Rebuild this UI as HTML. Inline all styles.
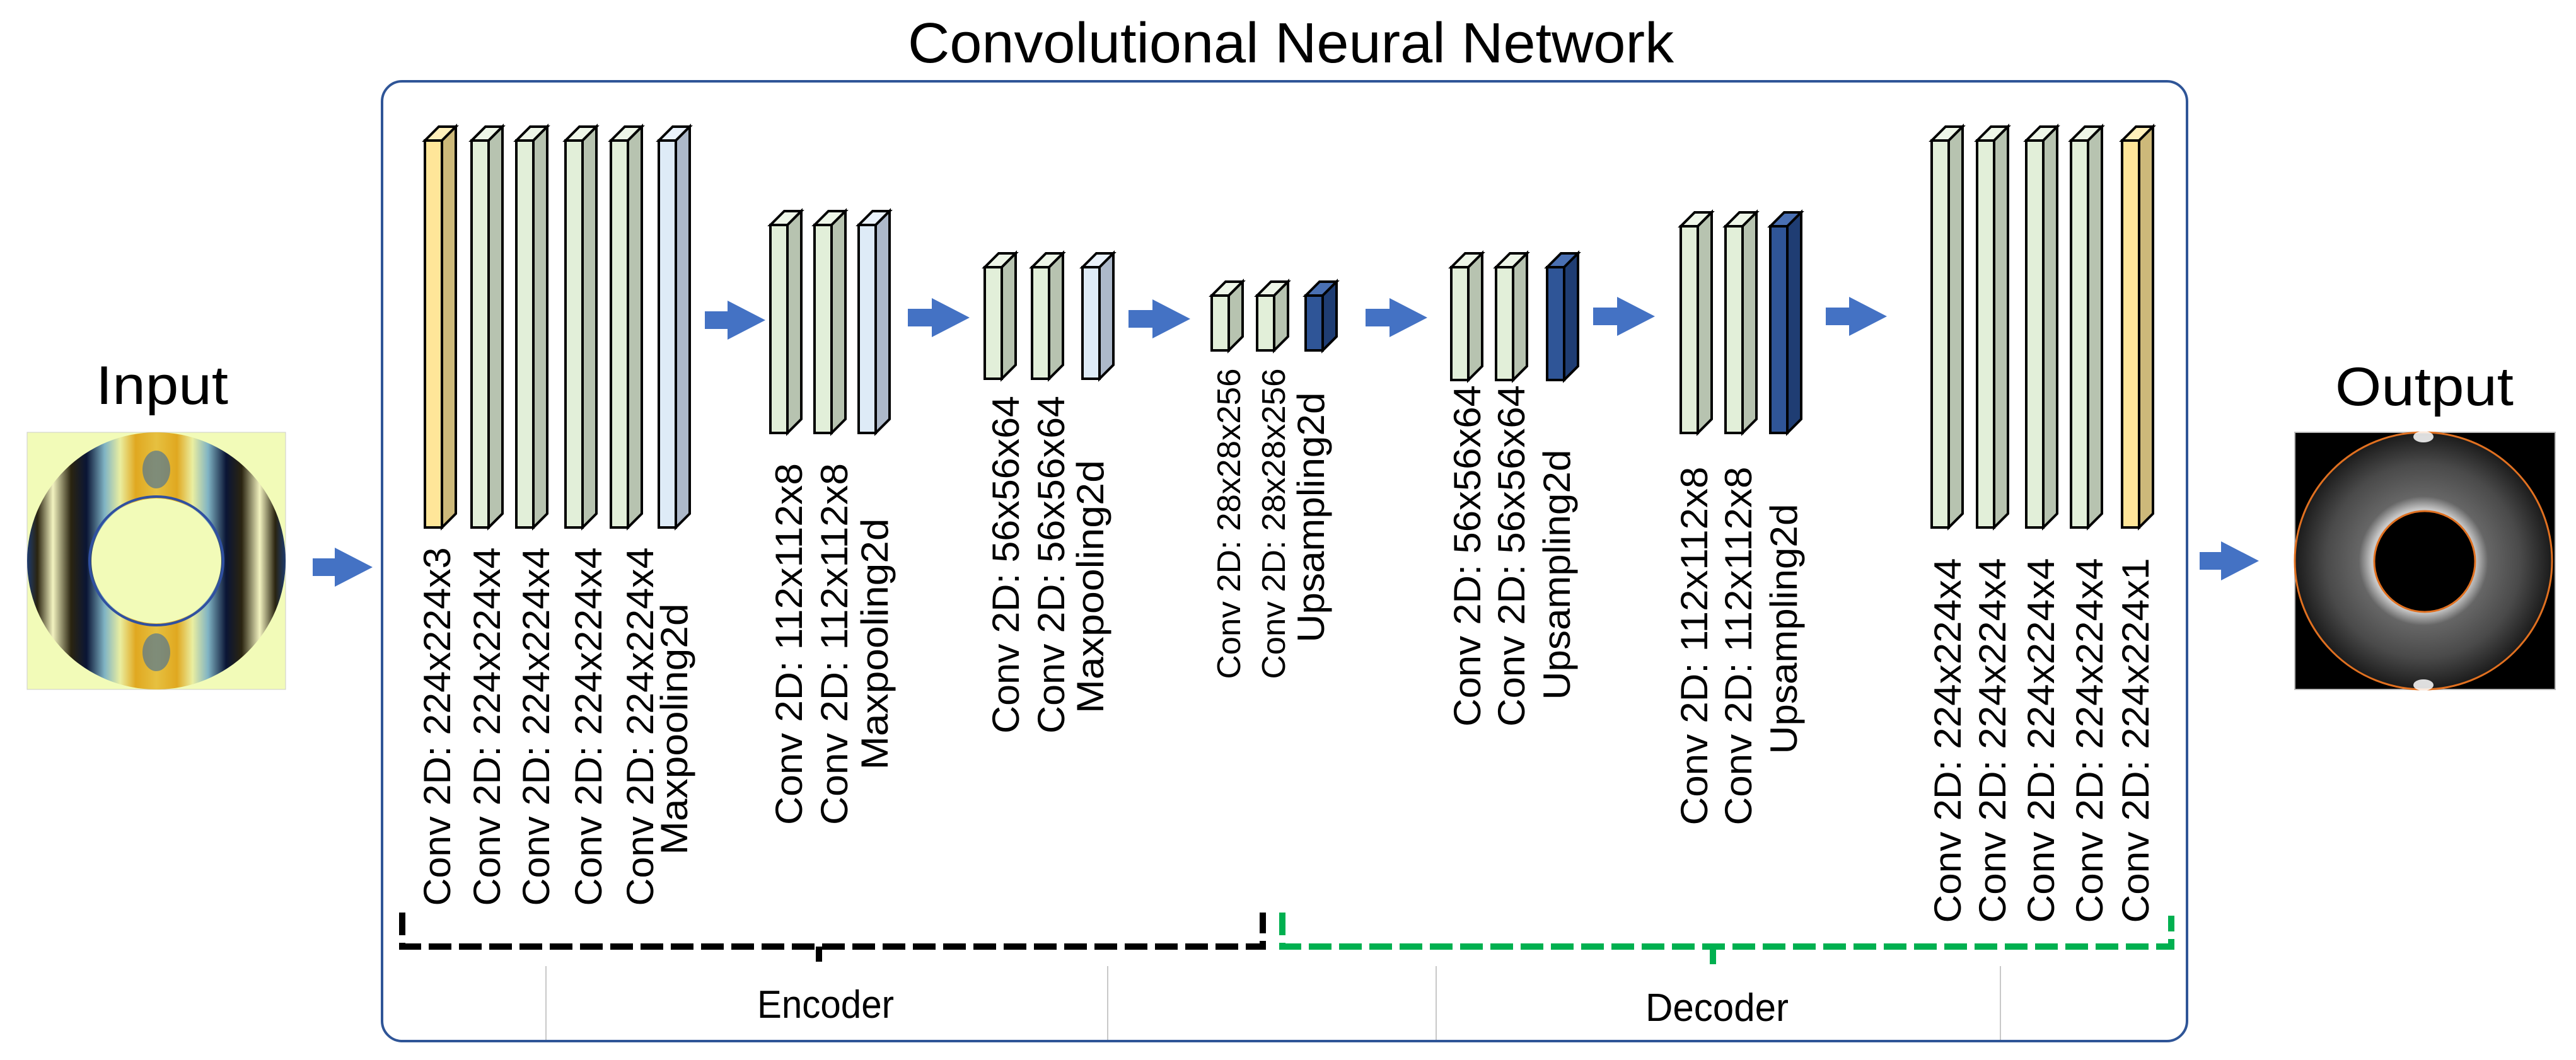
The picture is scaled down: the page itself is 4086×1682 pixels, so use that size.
<!DOCTYPE html>
<html><head><meta charset="utf-8"><style>
html,body{margin:0;padding:0;background:#fff;}
svg{display:block;}
text{font-family:"Liberation Sans",sans-serif;fill:#000;}
.Yt{fill:#fff0bb}.Ys{fill:#cdb97a}.Yf{fill:#ffe699}
.Gt{fill:#eef6e8}.Gs{fill:#b7c3b0}.Gf{fill:#e2efd9}
.Lt{fill:#eaf2fb}.Ls{fill:#adb9ca}.Lf{fill:#deebf7}
.Dt{fill:#4a70b3}.Ds{fill:#1f3d73}.Df{fill:#2f5597}
</style></head><body>
<svg width="4086" height="1682" viewBox="0 0 4086 1682" xmlns="http://www.w3.org/2000/svg">
<defs>
<linearGradient id="ing" x1="43" y1="0" x2="453" y2="0" gradientUnits="userSpaceOnUse">
<stop offset="0" stop-color="#1d3a6e"/><stop offset="0.04" stop-color="#2a2410"/>
<stop offset="0.1" stop-color="#f3f3c0"/><stop offset="0.17" stop-color="#2a2410"/>
<stop offset="0.23" stop-color="#0a1535"/><stop offset="0.3" stop-color="#80b4c4"/>
<stop offset="0.36" stop-color="#eaeea0"/><stop offset="0.42" stop-color="#e0a820"/>
<stop offset="0.5" stop-color="#e6c040"/><stop offset="0.58" stop-color="#e0a820"/>
<stop offset="0.64" stop-color="#eaeea0"/><stop offset="0.7" stop-color="#80b4c4"/>
<stop offset="0.77" stop-color="#0a1535"/><stop offset="0.83" stop-color="#2a2410"/>
<stop offset="0.9" stop-color="#f3f3c0"/><stop offset="0.96" stop-color="#2a2410"/>
<stop offset="1" stop-color="#1d3a6e"/>
</linearGradient>
<radialGradient id="outg" cx="3844" cy="890" r="205" gradientUnits="userSpaceOnUse">
<stop offset="0.4" stop-color="#c8c8c8"/><stop offset="0.5" stop-color="#666"/>
<stop offset="0.75" stop-color="#4a4a4a"/><stop offset="1" stop-color="#1a1a1a"/>
</radialGradient>
</defs>

<rect x="606" y="129" width="2863" height="1523" rx="32" ry="32" fill="none" stroke="#2f5597" stroke-width="4"/>
<text x="1440" y="99" font-size="90" textLength="1215" lengthAdjust="spacingAndGlyphs">Convolutional Neural Network</text>

<g stroke="#c8c8c8" stroke-width="2">
<line x1="866" y1="1533" x2="866" y2="1650"/><line x1="1757" y1="1533" x2="1757" y2="1650"/>
<line x1="2278" y1="1533" x2="2278" y2="1650"/><line x1="3173" y1="1533" x2="3173" y2="1650"/>
</g>
<text x="1201" y="1615" font-size="62" textLength="217" lengthAdjust="spacingAndGlyphs">Encoder</text>
<text x="2610" y="1620" font-size="62" textLength="227" lengthAdjust="spacingAndGlyphs">Decoder</text>

<path d="M638,1448 L638,1502 L2003,1502 L2003,1448 M1299,1502 L1299,1526" fill="none" stroke="#000" stroke-width="10" stroke-dasharray="36 12"/>
<path d="M2034,1448 L2034,1502 L3444,1502 L3444,1453 M2717,1502 L2717,1530" fill="none" stroke="#00b050" stroke-width="10" stroke-dasharray="36 12"/>

<text x="152" y="641" font-size="86" textLength="210" lengthAdjust="spacingAndGlyphs">Input</text>
<rect x="43" y="686" width="410" height="408" fill="#f2fbb8" stroke="#ccc" stroke-width="1"/>
<ellipse cx="248" cy="890" rx="205" ry="204" fill="url(#ing)"/>
<ellipse cx="248" cy="745" rx="22" ry="30" fill="#3a6aa0" opacity="0.6"/>
<ellipse cx="248" cy="1035" rx="22" ry="30" fill="#3a6aa0" opacity="0.6"/>
<ellipse cx="248" cy="890" rx="106" ry="102" fill="none" stroke="#3050a0" stroke-width="4"/>
<ellipse cx="248" cy="890" rx="103" ry="99" fill="#f2fbb8"/>

<text x="3704" y="643" font-size="86" textLength="283" lengthAdjust="spacingAndGlyphs">Output</text>
<rect x="3640" y="686" width="413" height="408" fill="#000" stroke="#bbb" stroke-width="2"/>
<circle cx="3844" cy="890" r="204" fill="url(#outg)" stroke="#e07020" stroke-width="3"/>
<ellipse cx="3844" cy="693" rx="16" ry="9" fill="#fff" opacity="0.85"/>
<ellipse cx="3844" cy="1087" rx="16" ry="9" fill="#fff" opacity="0.85"/>
<circle cx="3846" cy="891" r="80" fill="#000" stroke="#e07020" stroke-width="3"/>

<g fill="#4472c4">
<path d="M496,886 h35 v-17 l60,31 l-60,31 v-17 h-35z"/>
<path d="M1118,494 h36 v-17 l60,31 l-60,31 v-17 h-36z"/>
<path d="M1440,490 h38 v-17 l60,31 l-60,31 v-17 h-38z"/>
<path d="M1790,492 h38 v-17 l60,31 l-60,31 v-17 h-38z"/>
<path d="M2166,490 h38 v-17 l60,31 l-60,31 v-17 h-38z"/>
<path d="M2527,488 h38 v-17 l60,31 l-60,31 v-17 h-38z"/>
<path d="M2896,488 h37 v-17 l60,31 l-60,31 v-17 h-37z"/>
<path d="M3489,876 h34 v-17 l60,31 l-60,31 v-17 h-34z"/>
</g>

<g stroke="#000" stroke-width="4" stroke-linejoin="miter">
<polygon class="Yt" points="674,223 696,201 723,201 701,223"/><polygon class="Ys" points="701,223 723,201 723,815 701,837"/><rect class="Yf" x="674" y="223" width="27" height="614"/>
<polygon class="Gt" points="748,223 770,201 797,201 775,223"/><polygon class="Gs" points="775,223 797,201 797,815 775,837"/><rect class="Gf" x="748" y="223" width="27" height="614"/>
<polygon class="Gt" points="819,223 841,201 868,201 846,223"/><polygon class="Gs" points="846,223 868,201 868,815 846,837"/><rect class="Gf" x="819" y="223" width="27" height="614"/>
<polygon class="Gt" points="897,223 919,201 946,201 924,223"/><polygon class="Gs" points="924,223 946,201 946,815 924,837"/><rect class="Gf" x="897" y="223" width="27" height="614"/>
<polygon class="Gt" points="969,223 991,201 1018,201 996,223"/><polygon class="Gs" points="996,223 1018,201 1018,815 996,837"/><rect class="Gf" x="969" y="223" width="27" height="614"/>
<polygon class="Lt" points="1045,223 1067,201 1094,201 1072,223"/><polygon class="Ls" points="1072,223 1094,201 1094,815 1072,837"/><rect class="Lf" x="1045" y="223" width="27" height="614"/>

<polygon class="Gt" points="1222,357 1244,335 1271,335 1249,357"/><polygon class="Gs" points="1249,357 1271,335 1271,665 1249,687"/><rect class="Gf" x="1222" y="357" width="27" height="330"/>
<polygon class="Gt" points="1292,357 1314,335 1341,335 1319,357"/><polygon class="Gs" points="1319,357 1341,335 1341,665 1319,687"/><rect class="Gf" x="1292" y="357" width="27" height="330"/>
<polygon class="Lt" points="1362,357 1384,335 1411,335 1389,357"/><polygon class="Ls" points="1389,357 1411,335 1411,665 1389,687"/><rect class="Lf" x="1362" y="357" width="27" height="330"/>

<polygon class="Gt" points="1562,424 1584,402 1611,402 1589,424"/><polygon class="Gs" points="1589,424 1611,402 1611,579 1589,601"/><rect class="Gf" x="1562" y="424" width="27" height="177"/>
<polygon class="Gt" points="1637,424 1659,402 1686,402 1664,424"/><polygon class="Gs" points="1664,424 1686,402 1686,579 1664,601"/><rect class="Gf" x="1637" y="424" width="27" height="177"/>
<polygon class="Lt" points="1717,424 1739,402 1766,402 1744,424"/><polygon class="Ls" points="1744,424 1766,402 1766,579 1744,601"/><rect class="Lf" x="1717" y="424" width="27" height="177"/>

<polygon class="Gt" points="1922,469 1944,447 1971,447 1949,469"/><polygon class="Gs" points="1949,469 1971,447 1971,534 1949,556"/><rect class="Gf" x="1922" y="469" width="27" height="87"/>
<polygon class="Gt" points="1994,469 2016,447 2043,447 2021,469"/><polygon class="Gs" points="2021,469 2043,447 2043,534 2021,556"/><rect class="Gf" x="1994" y="469" width="27" height="87"/>
<polygon class="Dt" points="2071,469 2093,447 2120,447 2098,469"/><polygon class="Ds" points="2098,469 2120,447 2120,534 2098,556"/><rect class="Df" x="2071" y="469" width="27" height="87"/>

<polygon class="Gt" points="2302,424 2324,402 2351,402 2329,424"/><polygon class="Gs" points="2329,424 2351,402 2351,581 2329,603"/><rect class="Gf" x="2302" y="424" width="27" height="179"/>
<polygon class="Gt" points="2373,424 2395,402 2422,402 2400,424"/><polygon class="Gs" points="2400,424 2422,402 2422,581 2400,603"/><rect class="Gf" x="2373" y="424" width="27" height="179"/>
<polygon class="Dt" points="2454,424 2476,402 2503,402 2481,424"/><polygon class="Ds" points="2481,424 2503,402 2503,581 2481,603"/><rect class="Df" x="2454" y="424" width="27" height="179"/>

<polygon class="Gt" points="2666,359 2688,337 2715,337 2693,359"/><polygon class="Gs" points="2693,359 2715,337 2715,665 2693,687"/><rect class="Gf" x="2666" y="359" width="27" height="328"/>
<polygon class="Gt" points="2737,359 2759,337 2786,337 2764,359"/><polygon class="Gs" points="2764,359 2786,337 2786,665 2764,687"/><rect class="Gf" x="2737" y="359" width="27" height="328"/>
<polygon class="Dt" points="2808,359 2830,337 2857,337 2835,359"/><polygon class="Ds" points="2835,359 2857,337 2857,665 2835,687"/><rect class="Df" x="2808" y="359" width="27" height="328"/>

<polygon class="Gt" points="3064,223 3086,201 3113,201 3091,223"/><polygon class="Gs" points="3091,223 3113,201 3113,815 3091,837"/><rect class="Gf" x="3064" y="223" width="27" height="614"/>
<polygon class="Gt" points="3136,223 3158,201 3185,201 3163,223"/><polygon class="Gs" points="3163,223 3185,201 3185,815 3163,837"/><rect class="Gf" x="3136" y="223" width="27" height="614"/>
<polygon class="Gt" points="3214,223 3236,201 3263,201 3241,223"/><polygon class="Gs" points="3241,223 3263,201 3263,815 3241,837"/><rect class="Gf" x="3214" y="223" width="27" height="614"/>
<polygon class="Gt" points="3285,223 3307,201 3334,201 3312,223"/><polygon class="Gs" points="3312,223 3334,201 3334,815 3312,837"/><rect class="Gf" x="3285" y="223" width="27" height="614"/>
<polygon class="Yt" points="3366,223 3388,201 3415,201 3393,223"/><polygon class="Ys" points="3393,223 3415,201 3415,815 3393,837"/><rect class="Yf" x="3366" y="223" width="27" height="614"/>
</g>

<g font-size="60" text-anchor="middle">
<text transform="translate(714,1153) rotate(-90)" textLength="569" lengthAdjust="spacingAndGlyphs">Conv 2D: 224x224x3</text>
<text transform="translate(793,1153) rotate(-90)" textLength="569" lengthAdjust="spacingAndGlyphs">Conv 2D: 224x224x4</text>
<text transform="translate(871,1153) rotate(-90)" textLength="569" lengthAdjust="spacingAndGlyphs">Conv 2D: 224x224x4</text>
<text transform="translate(954,1153) rotate(-90)" textLength="569" lengthAdjust="spacingAndGlyphs">Conv 2D: 224x224x4</text>
<text transform="translate(1036,1153) rotate(-90)" textLength="569" lengthAdjust="spacingAndGlyphs">Conv 2D: 224x224x4</text>
<text transform="translate(1090,1157) rotate(-90)" textLength="399" lengthAdjust="spacingAndGlyphs">Maxpooling2d</text>

<text transform="translate(1272,1022) rotate(-90)" textLength="574" lengthAdjust="spacingAndGlyphs">Conv 2D: 112x112x8</text>
<text transform="translate(1344,1022) rotate(-90)" textLength="574" lengthAdjust="spacingAndGlyphs">Conv 2D: 112x112x8</text>
<text transform="translate(1408,1022) rotate(-90)" textLength="399" lengthAdjust="spacingAndGlyphs">Maxpooling2d</text>

<text transform="translate(1616,896) rotate(-90)" textLength="536" lengthAdjust="spacingAndGlyphs">Conv 2D: 56x56x64</text>
<text transform="translate(1688,896) rotate(-90)" textLength="536" lengthAdjust="spacingAndGlyphs">Conv 2D: 56x56x64</text>
<text transform="translate(1750,931) rotate(-90)" textLength="402" lengthAdjust="spacingAndGlyphs">Maxpooling2d</text>

<text font-size="52" transform="translate(1967,831) rotate(-90)" textLength="493" lengthAdjust="spacingAndGlyphs">Conv 2D: 28x28x256</text>
<text font-size="52" transform="translate(2038,831) rotate(-90)" textLength="493" lengthAdjust="spacingAndGlyphs">Conv 2D: 28x28x256</text>
<text transform="translate(2100,821) rotate(-90)" textLength="397" lengthAdjust="spacingAndGlyphs">Upsampling2d</text>

<text transform="translate(2348,882) rotate(-90)" textLength="542" lengthAdjust="spacingAndGlyphs">Conv 2D: 56x56x64</text>
<text transform="translate(2418,882) rotate(-90)" textLength="542" lengthAdjust="spacingAndGlyphs">Conv 2D: 56x56x64</text>
<text transform="translate(2490,912) rotate(-90)" textLength="397" lengthAdjust="spacingAndGlyphs">Upsampling2d</text>

<text transform="translate(2708,1025) rotate(-90)" textLength="569" lengthAdjust="spacingAndGlyphs">Conv 2D: 112x112x8</text>
<text transform="translate(2778,1025) rotate(-90)" textLength="569" lengthAdjust="spacingAndGlyphs">Conv 2D: 112x112x8</text>
<text transform="translate(2850,998) rotate(-90)" textLength="397" lengthAdjust="spacingAndGlyphs">Upsampling2d</text>

<text transform="translate(3110,1175) rotate(-90)" textLength="579" lengthAdjust="spacingAndGlyphs">Conv 2D: 224x224x4</text>
<text transform="translate(3181,1175) rotate(-90)" textLength="579" lengthAdjust="spacingAndGlyphs">Conv 2D: 224x224x4</text>
<text transform="translate(3258,1175) rotate(-90)" textLength="579" lengthAdjust="spacingAndGlyphs">Conv 2D: 224x224x4</text>
<text transform="translate(3335,1175) rotate(-90)" textLength="579" lengthAdjust="spacingAndGlyphs">Conv 2D: 224x224x4</text>
<text transform="translate(3408,1175) rotate(-90)" textLength="579" lengthAdjust="spacingAndGlyphs">Conv 2D: 224x224x1</text>
</g>
</svg>
</body></html>
